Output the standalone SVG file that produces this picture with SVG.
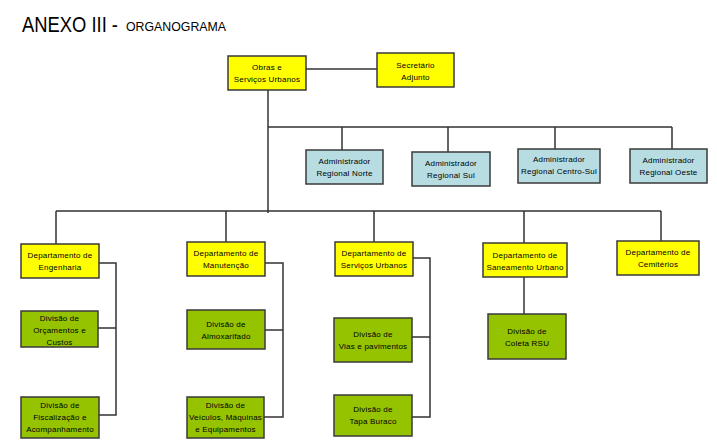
<svg xmlns="http://www.w3.org/2000/svg" width="717" height="446" viewBox="0 0 717 446">
<style>
.t{font-family:"Liberation Sans",Arial,sans-serif;font-size:8px;fill:#000;text-anchor:middle;letter-spacing:0.2px}
.y{fill:#ffff00;stroke:#3a3a3a;stroke-width:1.5}
.b{fill:#b7dde3;stroke:#3a3a3a;stroke-width:1.5}
.g{fill:#95c300;stroke:#3a3a3a;stroke-width:1.5}
.c{fill:none;stroke:#333;stroke-width:1.5}
</style>
<rect width="717" height="446" fill="#fff"/>
<text x="22" y="32" font-family="'Liberation Sans',Arial,sans-serif" font-size="22" textLength="96" lengthAdjust="spacingAndGlyphs">ANEXO III -</text>
<text x="126" y="31" font-family="'Liberation Sans',Arial,sans-serif" font-size="13.5" textLength="100" lengthAdjust="spacingAndGlyphs">ORGANOGRAMA</text>
<g id="connectors">
<path class="c" d="M306 69H377"/>
<path class="c" d="M268 90V213"/>
<path class="c" d="M268 127H672M342 127V150M448 127V152M555 127V149M672 127V149"/>
<path class="c" d="M56 211H661M56 211V244M226 211V242M374 211V242M524 211V243M661 211V241"/>
<path class="c" d="M99 263H116V415H99M98 328H116"/>
<path class="c" d="M265 263H283V417H264M265 330H283"/>
<path class="c" d="M413 258H430V417H412M412 337H430"/>
<path class="c" d="M524 277V314"/>
</g>
<g id="obras"><rect class="y" x="228" y="56" width="78" height="34"/><text class="t" x="267" y="70">Obras e</text><text class="t" x="267" y="82">Serviços Urbanos</text></g>
<g id="secretario"><rect class="y" x="377" y="53" width="77" height="34"/><text class="t" x="415.5" y="68">Secretário</text><text class="t" x="415.5" y="80">Adjunto</text></g>
<g id="norte"><rect class="b" x="306" y="150" width="77" height="34"/><text class="t" x="344.5" y="164">Administrador</text><text class="t" x="344.5" y="176">Regional Norte</text></g>
<g id="sul"><rect class="b" x="412" y="152" width="78" height="34"/><text class="t" x="451" y="166">Administrador</text><text class="t" x="451" y="178">Regional Sul</text></g>
<g id="centrosul"><rect class="b" x="518" y="149" width="82" height="34"/><text class="t" x="559" y="162">Administrador</text><text class="t" x="559" y="174">Regional Centro-Sul</text></g>
<g id="oeste"><rect class="b" x="630" y="149" width="77" height="34"/><text class="t" x="668.5" y="163">Administrador</text><text class="t" x="668.5" y="175">Regional Oeste</text></g>
<g id="engenharia"><rect class="y" x="21" y="244" width="78" height="34"/><text class="t" x="60" y="258">Departamento de</text><text class="t" x="60" y="270">Engenharia</text></g>
<g id="manutencao"><rect class="y" x="187" y="242" width="78" height="34"/><text class="t" x="226" y="256">Departamento de</text><text class="t" x="226" y="268">Manutenção</text></g>
<g id="servicos"><rect class="y" x="335" y="242" width="78" height="34"/><text class="t" x="374" y="256">Departamento de</text><text class="t" x="374" y="268">Serviços Urbanos</text></g>
<g id="saneamento"><rect class="y" x="483" y="243" width="84" height="34"/><text class="t" x="525" y="258">Departamento de</text><text class="t" x="525" y="270">Saneamento Urbano</text></g>
<g id="cemiterios"><rect class="y" x="617" y="241" width="82" height="34"/><text class="t" x="658" y="255">Departamento de</text><text class="t" x="658" y="267">Cemitérios</text></g>
<g id="orcamentos"><rect class="g" x="21" y="311" width="77" height="36"/><text class="t" x="59.5" y="321">Divisão de</text><text class="t" x="59.5" y="333">Orçamentos e</text><text class="t" x="59.5" y="345">Custos</text></g>
<g id="fiscalizacao"><rect class="g" x="21" y="397" width="78" height="41"/><text class="t" x="60" y="408">Divisão de</text><text class="t" x="60" y="420">Fiscalização e</text><text class="t" x="60" y="432">Acompanhamento</text></g>
<g id="almoxarifado"><rect class="g" x="187" y="310" width="78" height="39"/><text class="t" x="226" y="327">Divisão de</text><text class="t" x="226" y="339">Almoxarifado</text></g>
<g id="veiculos"><rect class="g" x="187" y="397" width="77" height="41"/><text class="t" x="225.5" y="408">Divisão de</text><text class="t" x="225.5" y="420">Veículos, Máquinas</text><text class="t" x="225.5" y="432">e Equipamentos</text></g>
<g id="vias"><rect class="g" x="334" y="318" width="78" height="44"/><text class="t" x="373" y="337">Divisão de</text><text class="t" x="373" y="349">Vias e pavimentos</text></g>
<g id="tapa"><rect class="g" x="334" y="395" width="78" height="41"/><text class="t" x="373" y="412">Divisão de</text><text class="t" x="373" y="424">Tapa Buraco</text></g>
<g id="coleta"><rect class="g" x="488" y="314" width="78" height="45"/><text class="t" x="527" y="334">Divisão de</text><text class="t" x="527" y="346">Coleta RSU</text></g>
</svg>
